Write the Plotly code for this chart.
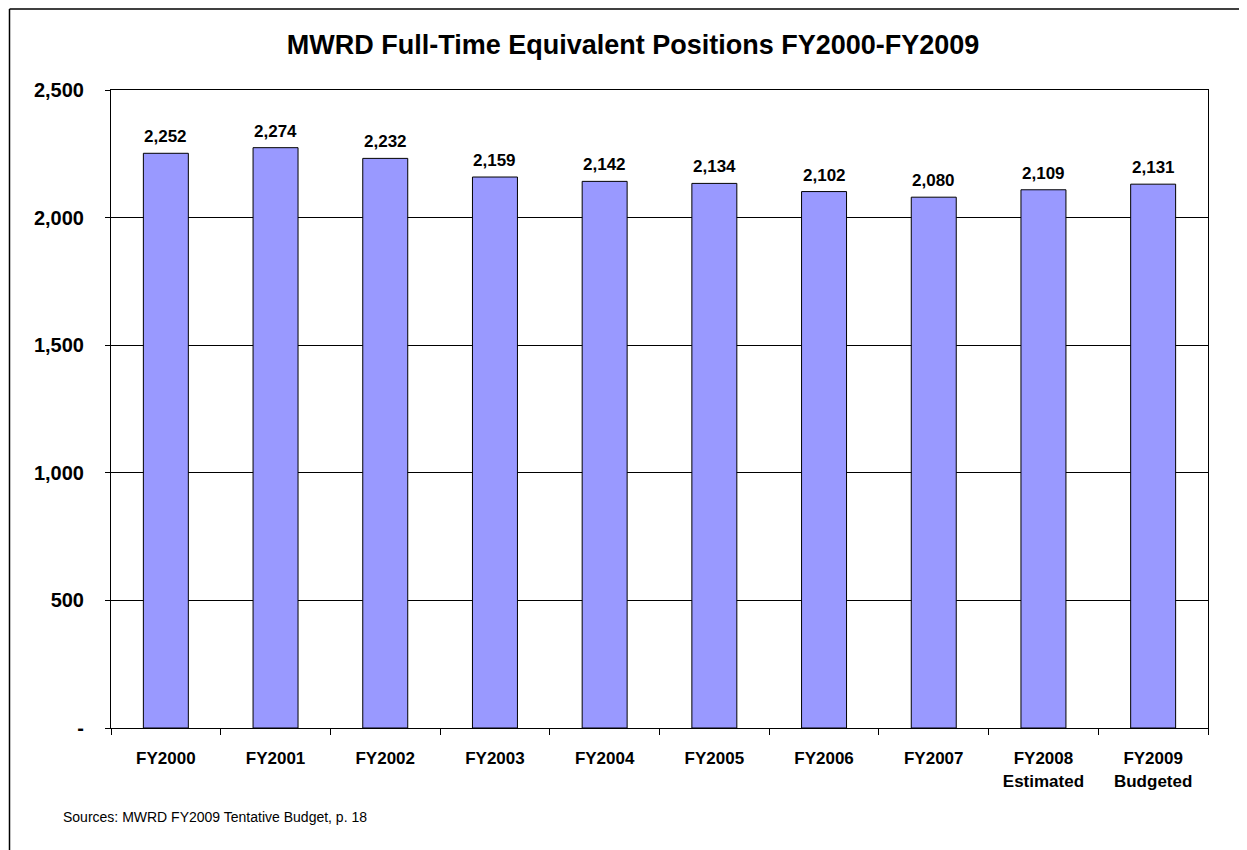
import plotly.graph_objects as go

categories = ["FY2000", "FY2001", "FY2002", "FY2003", "FY2004", "FY2005",
              "FY2006", "FY2007", "FY2008<br>Estimated", "FY2009<br>Budgeted"]
positions = [2252, 2274, 2232, 2159, 2142, 2134, 2102, 2080, 2109, 2131]
ytick_vals = [0, 500, 1000, 1500, 2000, 2500]
ytick_text = ["-", "500", "1,000", "1,500", "2,000", "2,500"]

OFF = 8  # page body margin
W, H = 1247 - OFF, 850 - OFF
L, R, T, B = 111 - OFF, 39, 90 - OFF, 122
pw, ph = W - L - R, H - T - B

def px_x(p):
    return (p - 111) / pw

def px_y(p):
    return (728 - p) / ph

font = "Liberation Sans, Arial, sans-serif"

fig = go.Figure()
fig.add_trace(go.Bar(
    x=categories, y=positions,
    marker=dict(color="#9999FF", line=dict(color="black", width=1)),
    cliponaxis=False,
    hoverinfo="x+y",
))

annotations = [dict(
    x=c, y=v, xref="x", yref="y", text=f"<b>{v:,}</b>",
    showarrow=False, yanchor="bottom", yshift=5,
    font=dict(family=font, size=17, color="black"),
) for c, v in zip(categories, positions)]

annotations.append(dict(
    text="Sources: MWRD FY2009 Tentative Budget, p. 18",
    xref="paper", yref="paper", x=px_x(61), y=px_y(817),
    xanchor="left", yanchor="middle", showarrow=False,
    font=dict(family=font, size=14, color="black"),
))

fig.update_layout(
    width=W, height=H,
    margin=dict(l=L, r=R, t=T, b=B),
    paper_bgcolor="white", plot_bgcolor="white",
    bargap=0.59,
    showlegend=False,
    title=dict(text="<b>MWRD Full-Time Equivalent Positions FY2000-FY2009</b>",
               x=px_x(633), xref="paper", xanchor="center",
               y=1 - (45 - OFF) / H, yref="container", yanchor="middle",
               font=dict(family=font, size=27, color="black")),
    xaxis=dict(
        type="category",
        tickvals=categories, ticktext=[f"<b>{c}</b>" for c in categories],
        showline=True, linecolor="black", linewidth=1, mirror=True,
        ticks="outside", ticklen=6, tickcolor="black",
        tickson="boundaries",
        tickfont=dict(family=font, size=17, color="black"),
        ticklabelstandoff=15,
        showgrid=False,
    ),
    yaxis=dict(
        range=[0, 2500],
        tickvals=ytick_vals, ticktext=[f"<b>{t}</b>" for t in ytick_text],
        showline=True, linecolor="black", linewidth=1, mirror=True,
        ticks="outside", ticklen=5, tickcolor="black",
        tickfont=dict(family=font, size=20, color="black"),
        ticklabelstandoff=17,
        showgrid=True, gridcolor="black", gridwidth=1,
        zeroline=False,
    ),
    annotations=annotations,
    shapes=[
        dict(type="line", xref="paper", yref="paper",
             x0=px_x(9.5), x1=px_x(9.5), y0=px_y(9), y1=px_y(870),
             line=dict(color="black", width=1.5)),
        dict(type="line", xref="paper", yref="paper",
             x0=px_x(9.5), x1=px_x(1270), y0=px_y(9), y1=px_y(9),
             line=dict(color="black", width=1.5)),
    ],
)

fig.write_html("out.html")
